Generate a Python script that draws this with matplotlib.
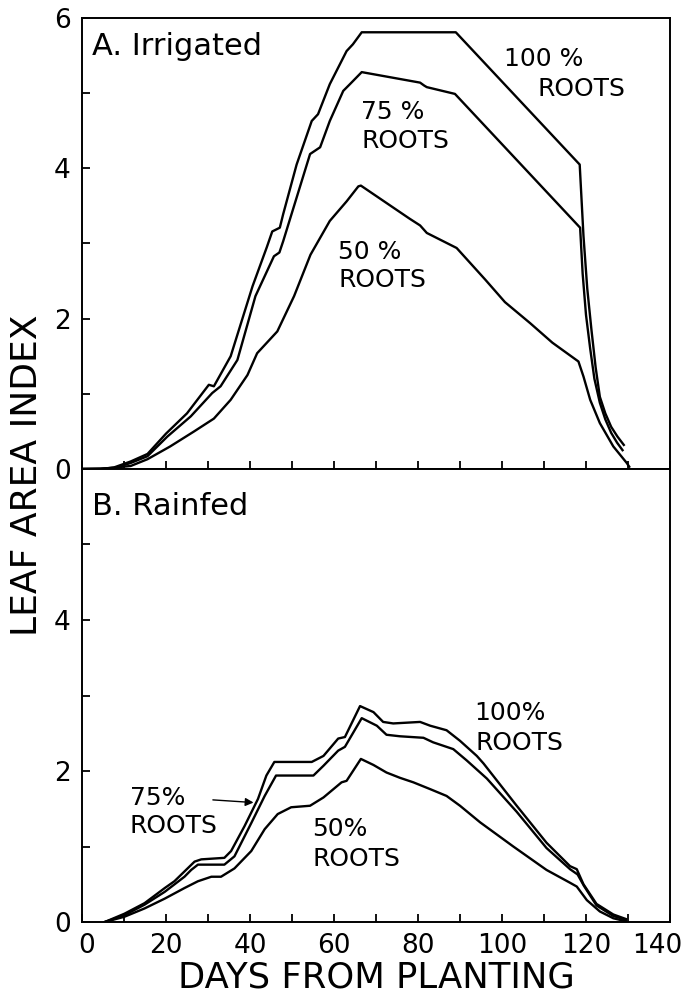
import numpy as np
import matplotlib
matplotlib.use('Agg')
import matplotlib.pyplot as plt
from matplotlib.ticker import MultipleLocator
from matplotlib.transforms import ScaledTranslation

# A. irrigated
irr_days_100 = [0, 4.4, 7.6, 11.6, 15.6, 20, 25, 30.2, 31.4, 35.4, 40.6, 44, 45.3, 47.1, 47.9, 51.1,
                54.7, 56.2, 59, 63, 64.5, 66.6, 89, 118.5, 119.4, 120.3, 121.3, 122.3, 123.3, 124.6,
                126, 127.5, 129]
irr_lai_100 = [0, 0, 0.02, 0.1, 0.2, 0.47, 0.74, 1.12, 1.1, 1.5, 2.43, 2.95, 3.16, 3.21, 3.39, 4.05,
               4.63, 4.72, 5.12, 5.56, 5.65, 5.81, 5.81, 4.05, 3.1, 2.4, 1.85, 1.35, 0.96, 0.74,
               0.56, 0.43, 0.32]

irr_days_75 = [0, 7.6, 11.6, 15.6, 20.3, 25.9, 31, 33, 37, 41.3, 45.7, 47, 47.9, 51.1, 54.3, 56.7,
               59, 62.2, 63.8, 66.6, 80.5, 81.5, 82.1, 88.8, 118.6, 119.2, 120, 121, 122, 123.3,
               124.6, 126, 127.4, 128.7]
irr_lai_75 = [0, 0.01, 0.08, 0.17, 0.43, 0.7, 1.01, 1.1, 1.45, 2.3, 2.83, 2.88, 3.03, 3.61, 4.19, 4.28,
              4.63, 5.03, 5.12, 5.28, 5.14, 5.1, 5.08, 4.99, 3.21, 2.6, 2.05, 1.6, 1.2, 0.88,
              0.66, 0.48, 0.35, 0.25]

irr_days_50 = [0, 4.4, 11.6, 15.6, 21, 26.7, 31.4, 35.4, 39.4, 41.7, 46.5, 50.5, 54.4, 59, 63, 65.8,
               66.4, 78, 80.5, 82.1, 89.2, 96, 100.7, 106.7, 112, 118.2, 119.4, 121, 123.3, 126.5,
               129.7, 130.3]
irr_lai_50 = [0, 0, 0.04, 0.13, 0.3, 0.5, 0.67, 0.92, 1.25, 1.54, 1.83, 2.3, 2.85, 3.3, 3.56, 3.76,
              3.77, 3.33, 3.24, 3.14, 2.94, 2.52, 2.22, 1.94, 1.68, 1.43, 1.23, 0.92, 0.61, 0.3,
              0.08, 0.03]

# B. rainfed
rf_days_100 = [5.4, 10.1, 14.9, 19.7, 22, 24.4, 26.8, 28.4, 33.9, 35.5, 38.7, 41.9, 43.9, 45.8,
               54.7, 57.5, 61, 62.6, 66.2, 69.4, 71.7, 74.1, 80.5, 82.9, 86.8, 90, 94, 95.6,
               103.5, 110.6, 116.2, 117.8, 119.4, 122.5, 126.5, 129.5]
rf_lai_100 = [0, 0.11, 0.25, 0.45, 0.54, 0.67, 0.8, 0.83, 0.85, 0.94, 1.27, 1.63, 1.94, 2.12,
              2.12, 2.2, 2.43, 2.45, 2.86, 2.78, 2.65, 2.63, 2.65, 2.6, 2.54, 2.4, 2.2, 2.1,
              1.54, 1.05, 0.74, 0.7, 0.5, 0.24, 0.1, 0.04]

rf_days_75 = [5.4, 10.1, 14.9, 19.7, 24.4, 26, 27.6, 33.9, 36.3, 40.3, 43.5, 46.2, 55.1, 57.5, 61,
              62.6, 66.6, 70.2, 72.5, 75.7, 81.3, 83.6, 88.4, 91.6, 94.8, 96.4, 103.5, 110.6,
              116.2, 118, 119.5, 122.5, 126.5, 129.5]
rf_lai_75 = [0, 0.09, 0.23, 0.4, 0.6, 0.69, 0.76, 0.76, 0.87, 1.31, 1.67, 1.94, 1.94, 2.07, 2.27,
             2.32, 2.7, 2.6, 2.48, 2.46, 2.44, 2.38, 2.29, 2.14, 1.98, 1.9, 1.46, 0.98,
             0.7, 0.63, 0.48, 0.22, 0.08, 0.03]

rf_days_50 = [5.4, 10.1, 14.9, 19.7, 24.4, 27.6, 30.8, 33.1, 36.3, 40.3, 43.5, 46.6, 49.8, 54.3,
              57.5, 61.8, 63, 66.4, 69.4, 72.5, 75.7, 78.9, 82.9, 86.8, 90, 94.8, 102.7, 110.6,
              116.2, 117.8, 120.2, 123.3, 126.5, 129.5]
rf_lai_50 = [0, 0.07, 0.18, 0.31, 0.45, 0.54, 0.6, 0.6, 0.71, 0.94, 1.23, 1.43, 1.52, 1.54,
             1.65, 1.85, 1.87, 2.16, 2.08, 1.98, 1.91, 1.85, 1.76, 1.67, 1.54, 1.32, 1.0, 0.69,
             0.52, 0.47, 0.29, 0.14, 0.05, 0.01]

plt.rcParams['font.family'] = ['DejaVu Sans']
fig = plt.figure(figsize=(6.85, 9.94), dpi=100)
ax1 = fig.add_axes([0.1197, 0.5282, 0.8584, 0.4537])
ax2 = fig.add_axes([0.1197, 0.0724, 0.8584, 0.4558])

lw = 1.7
ax1.plot(irr_days_100, irr_lai_100, color='black', lw=lw)
ax1.plot(irr_days_75, irr_lai_75, color='black', lw=lw)
ax1.plot(irr_days_50, irr_lai_50, color='black', lw=lw)
ax2.plot(rf_days_100, rf_lai_100, color='black', lw=lw)
ax2.plot(rf_days_75, rf_lai_75, color='black', lw=lw)
ax2.plot(rf_days_50, rf_lai_50, color='black', lw=lw)

for ax in (ax1, ax2):
    ax.set_xlim(0, 140)
    ax.set_ylim(0, 6)
    ax.xaxis.set_major_locator(MultipleLocator(20))
    ax.xaxis.set_minor_locator(MultipleLocator(10))
    ax.yaxis.set_major_locator(MultipleLocator(2))
    ax.yaxis.set_minor_locator(MultipleLocator(1))
    ax.tick_params(which='both', direction='in', length=6, width=1.3, labelsize=19, pad=8,
                   top=False, right=False)
    for s in ax.spines.values():
        s.set_linewidth(1.4)

ax1.tick_params(axis='x', labelbottom=False)
ax2.set_yticks([0, 2, 4])
ax2.set_xticks([0, 20, 40, 60, 80, 100, 120, 140])

# keep the last x label inside the figure, nudge the first one right as in the original
fig.canvas.draw()
xlabels = ax2.get_xticklabels()
xlabels[-1].set_transform(xlabels[-1].get_transform() + ScaledTranslation(-0.13, 0, fig.dpi_scale_trans))
xlabels[0].set_transform(xlabels[0].get_transform() + ScaledTranslation(0.05, 0, fig.dpi_scale_trans))

fs = 18
ax1.text(2.5, 5.62, 'A. Irrigated', fontsize=22, va='center', ha='left')
ax1.text(100.5, 5.45, '100 %', fontsize=fs, va='center', ha='left')
ax1.text(108.5, 5.05, 'ROOTS', fontsize=fs, va='center', ha='left')
ax1.text(66.5, 4.75, '75 %', fontsize=fs, va='center', ha='left')
ax1.text(66.5, 4.36, 'ROOTS', fontsize=fs, va='center', ha='left')
ax1.text(61, 2.89, '50 %', fontsize=fs, va='center', ha='left')
ax1.text(61, 2.52, 'ROOTS', fontsize=fs, va='center', ha='left')

ax2.text(2.5, 5.5, 'B. Rainfed', fontsize=22, va='center', ha='left')
ax2.text(93.5, 2.77, '100%', fontsize=fs, va='center', ha='left')
ax2.text(93.8, 2.37, 'ROOTS', fontsize=fs, va='center', ha='left')
ax2.text(11.4, 1.64, '75%', fontsize=fs, va='center', ha='left')
ax2.text(11.4, 1.27, 'ROOTS', fontsize=fs, va='center', ha='left')
ax2.text(54.8, 1.23, '50%', fontsize=fs, va='center', ha='left')
ax2.text(55, 0.83, 'ROOTS', fontsize=fs, va='center', ha='left')
ax2.annotate('', xy=(41.5, 1.58), xytext=(30.5, 1.62),
             arrowprops=dict(arrowstyle='-|>', color='black', lw=1.0, mutation_scale=12))

fig.text(0.040, 0.522, 'LEAF AREA INDEX', rotation=90, fontsize=26, ha='center', va='center')
fig.text(0.549, 0.017, 'DAYS FROM PLANTING', fontsize=25.5, ha='center', va='center')

fig.savefig('out.png', dpi=100)
